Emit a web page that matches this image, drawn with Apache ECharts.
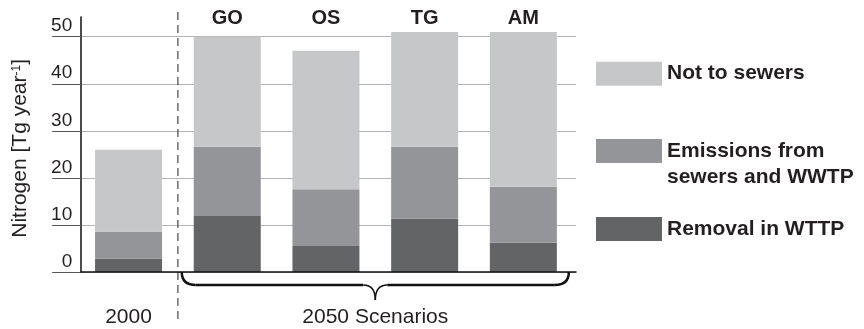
<!DOCTYPE html>
<html>
<head>
<meta charset="utf-8">
<script src="https://cdn.jsdelivr.net/npm/echarts@6/dist/echarts.min.js"></script>
<style>
  html, body { margin: 0; padding: 0; background: #ffffff; }
  #chart { width: 864px; height: 329px; }
</style>
</head>
<body>
<div id="chart"></div>
<script>
// Municipal wastewater nitrogen: year 2000 and four 2050 scenarios (Tg N per year)
const categories = ['2000', 'GO', 'OS', 'TG', 'AM'];
const removalInWttp = [2.8, 11.9, 5.5, 11.3, 6.2];
const emissionsSewersWwtp = [5.8, 14.7, 12.1, 15.3, 11.9];
const notToSewers = [17.4, 23.4, 29.4, 24.4, 32.9];

const yMin = 0;
const yMax = 50;
const yStep = 10;

const seriesNames = ['Not to sewers', 'Emissions from\nsewers and WWTP', 'Removal in WTTP'];
const scenarioGroupLabel = '2050 Scenarios';
const yAxisTitle = 'Nitrogen [Tg year{sup|-1}]';

const FONT = '"Liberation Sans", Arial, Helvetica, sans-serif';
const INK = '#231f20';
const COLORS = { light: '#c6c7c9', mid: '#949598', dark: '#636466' };

// plot geometry
const PLOT = { left: 79.2, top: 36.7, width: 493.5, height: 235.3 };

const legendText = { fontSize: 21, fontWeight: 'bold', color: INK, fontFamily: FONT, lineHeight: 26 };

const option = {
  animation: false,
  backgroundColor: '#ffffff',
  textStyle: { fontFamily: FONT, color: INK },
  grid: [
    // bars
    { left: PLOT.left, top: PLOT.top, width: PLOT.width, height: PLOT.height, outerBoundsMode: 'none', containLabel: false },
    // horizontal guide lines + black base line
    { left: 81, top: PLOT.top, width: 495, height: PLOT.height, outerBoundsMode: 'none', containLabel: false },
    // tall vertical axis line
    { left: 81, top: 17, width: 495, height: PLOT.top + PLOT.height - 17, outerBoundsMode: 'none', containLabel: false }
  ],
  xAxis: [
    {
      gridIndex: 0, type: 'category', data: categories, position: 'bottom',
      axisLine: { show: false }, axisTick: { show: false }, splitLine: { show: false },
      axisLabel: {
        interval: 0, margin: 35, fontSize: 21, color: INK, fontFamily: FONT,
        formatter: (v, i) => (i === 0 ? v : '')
      }
    },
    {
      gridIndex: 0, type: 'category', data: categories, position: 'top',
      axisLine: { show: false }, axisTick: { show: false }, splitLine: { show: false },
      axisLabel: {
        interval: 0, margin: 8, fontSize: 20, fontWeight: 'bold', color: INK, fontFamily: FONT,
        formatter: (v, i) => (i === 0 ? '' : v)
      }
    },
    {
      gridIndex: 1, type: 'value', min: 0, max: 1, z: 5,
      axisLine: { show: true, onZero: false, lineStyle: { color: '#111111', width: 1.5 } },
      axisTick: { show: false }, axisLabel: { show: false }, splitLine: { show: false }
    },
    {
      gridIndex: 2, type: 'value', min: 0, max: 1, show: false
    }
  ],
  yAxis: [
    {
      gridIndex: 0, type: 'value', min: yMin, max: yMax, interval: yStep, offset: -2,
      axisLine: { show: false },
      axisTick: { show: true, length: 29, lineStyle: { color: '#555555', width: 1 } },
      splitLine: { show: false },
      axisLabel: {
        margin: 9, fontSize: 19, color: INK, fontFamily: FONT,
        verticalAlign: 'bottom', padding: [0, 0, 1, 0]
      },
      name: yAxisTitle, nameLocation: 'middle', nameGap: 50, nameMoveOverlap: false,
      nameTextStyle: {
        fontSize: 21, color: INK, fontFamily: FONT, padding: [0, 0, 0, 12],
        rich: { sup: { fontSize: 12, verticalAlign: 'top', color: INK, fontFamily: FONT } }
      }
    },
    {
      gridIndex: 1, type: 'value', min: yMin, max: yMax, interval: yStep,
      axisLine: { show: false }, axisTick: { show: false }, axisLabel: { show: false },
      splitLine: { show: true, lineStyle: { color: '#b4b4b4', width: 1 } }
    },
    {
      gridIndex: 2, type: 'value', min: 0, max: 1,
      axisLine: { show: true, lineStyle: { color: '#111111', width: 1.5 } },
      axisTick: { show: false }, axisLabel: { show: false }, splitLine: { show: false }
    }
  ],
  legend: [
    {
      data: [seriesNames[0]], left: 596, top: 60.7, padding: 0, icon: 'rect',
      itemWidth: 66, itemHeight: 24, selectedMode: false,
      textStyle: legendText
    },
    {
      // leading blank line keeps the first line level with the swatch
      data: [seriesNames[1]], left: 596, top: 112, padding: 0, icon: 'rect',
      itemWidth: 66, itemHeight: 24, selectedMode: false,
      formatter: (name) => '\n' + name,
      textStyle: legendText
    },
    {
      data: [seriesNames[2]], left: 596, top: 216, padding: 0, icon: 'rect',
      itemWidth: 66, itemHeight: 24, selectedMode: false,
      textStyle: legendText
    }
  ],
  series: [
    {
      name: seriesNames[2], type: 'bar', stack: 'n', xAxisIndex: 0, yAxisIndex: 0,
      data: removalInWttp, barWidth: 67, clip: false,
      itemStyle: { color: COLORS.dark }
    },
    {
      name: seriesNames[1], type: 'bar', stack: 'n', xAxisIndex: 0, yAxisIndex: 0,
      data: emissionsSewersWwtp, barWidth: 67, clip: false,
      itemStyle: { color: COLORS.mid }
    },
    {
      name: seriesNames[0], type: 'bar', stack: 'n', xAxisIndex: 0, yAxisIndex: 0,
      data: notToSewers, barWidth: 67, clip: false,
      itemStyle: { color: COLORS.light }
    }
  ]
};

const chart = echarts.init(document.getElementById('chart'), null, { renderer: 'canvas' });
chart.setOption(option);

// separator, brace and group caption placed from the category axis scale
const xOf = (c) => chart.convertToPixel({ xAxisIndex: 0 }, c);
const yOf = (v) => chart.convertToPixel({ yAxisIndex: 0 }, v);
const band = xOf(categories[1]) - xOf(categories[0]);
const halfBar = 67 / 2;
const sepX = xOf(categories[0]) + band / 2;
const base = yOf(0);
const L = xOf(categories[1]) - halfBar - 12;
const R = xOf(categories[categories.length - 1]) + halfBar + 12;
const M = (L + R) / 2;
const yF = base + 13;
const yT = base + 28;
const braceStyle = { stroke: '#111111', lineWidth: 2.5, fill: null };
const tipStyle = { stroke: '#111111', lineWidth: 1.6, fill: null };

chart.setOption({
  graphic: [
    {
      type: 'line', silent: true,
      shape: { x1: sepX, y1: 12, x2: sepX, y2: 323 },
      style: { stroke: '#555555', lineWidth: 1.3, lineDash: [8, 5] }
    },
    { type: 'bezierCurve', silent: true, shape: { x1: L, y1: base, x2: L + 14, y2: yF, cpx1: L, cpy1: yF }, style: braceStyle },
    { type: 'line', silent: true, shape: { x1: L + 14, y1: yF, x2: M - 12, y2: yF }, style: braceStyle },
    { type: 'bezierCurve', silent: true, shape: { x1: M - 12, y1: yF, x2: M, y2: yT, cpx1: M, cpy1: yF }, style: tipStyle },
    { type: 'bezierCurve', silent: true, shape: { x1: M + 12, y1: yF, x2: M, y2: yT, cpx1: M, cpy1: yF }, style: tipStyle },
    { type: 'line', silent: true, shape: { x1: M + 12, y1: yF, x2: R - 14, y2: yF }, style: braceStyle },
    { type: 'bezierCurve', silent: true, shape: { x1: R - 14, y1: yF, x2: R, y2: base, cpx1: R, cpy1: yF }, style: braceStyle },
    {
      type: 'text', silent: true, x: M, y: 317,
      style: {
        text: scenarioGroupLabel, fontSize: 21, fontFamily: FONT, fill: INK,
        align: 'center', verticalAlign: 'middle'
      }
    }
  ]
});
</script>
</body>
</html>
